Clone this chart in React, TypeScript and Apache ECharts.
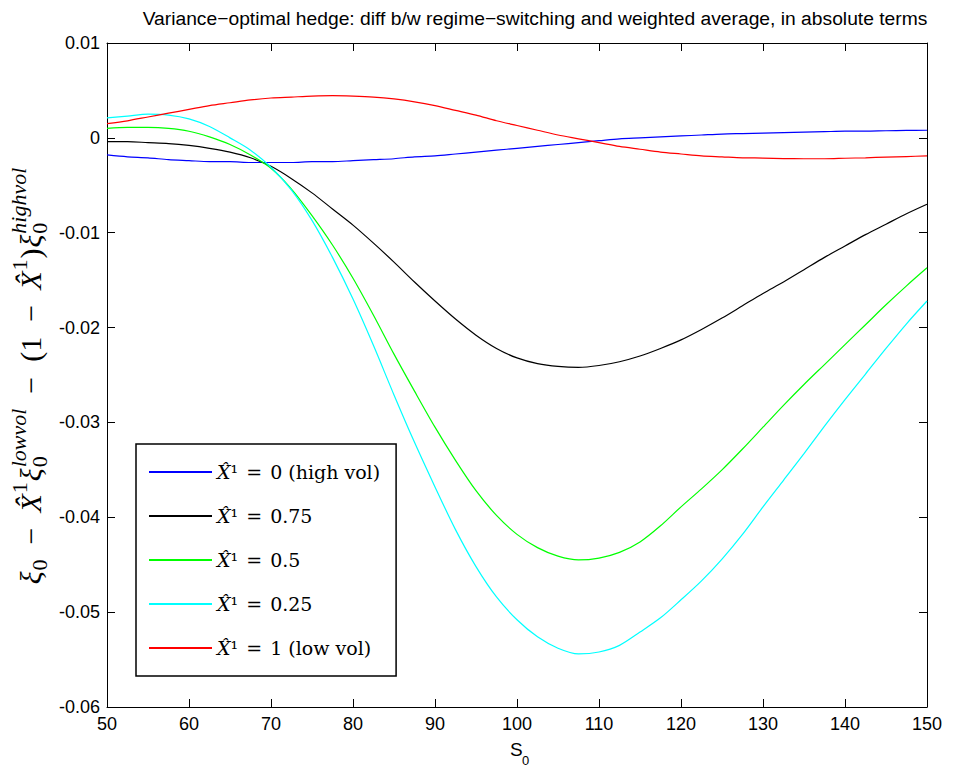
import React, { useEffect, useRef } from "react";
import * as echarts from "echarts";

const S_VALUES = [50, 52.5, 55, 57.5, 60, 62.5, 65, 67.5, 70, 72.5, 75, 77.5, 80, 82.5, 85, 87.5, 90, 92.5, 95, 97.5, 100, 102.5, 105, 107.5, 110, 112.5, 115, 117.5, 120, 122.5, 125, 127.5, 130, 132.5, 135, 137.5, 140, 142.5, 145, 147.5, 150];

const HIGH_VOL = [-0.0018, -0.002, -0.0021, -0.0023, -0.0024, -0.0025, -0.0025, -0.0026, -0.0026, -0.0026, -0.0025, -0.0025, -0.0024, -0.0023, -0.0022, -0.002, -0.0019, -0.0017, -0.0015, -0.0013, -0.0011, -0.0009, -0.0007, -0.0005, -0.0003, -0.0001, 0.0, 0.0001, 0.0002, 0.0003, 0.0004, 0.00045, 0.0005, 0.00055, 0.0006, 0.00065, 0.0007, 0.0007, 0.00075, 0.00078, 0.0008];
const X075 = [-0.0004, -0.0004, -0.0005, -0.0006, -0.0008, -0.0011, -0.0015, -0.0021, -0.003, -0.0043, -0.0058, -0.0075, -0.0092, -0.0111, -0.0131, -0.0152, -0.0172, -0.0191, -0.0208, -0.0222, -0.0232, -0.0238, -0.0241, -0.0242, -0.024, -0.0236, -0.023, -0.0222, -0.0213, -0.0202, -0.019, -0.0177, -0.0164, -0.0152, -0.0139, -0.0126, -0.0114, -0.0102, -0.0091, -0.008, -0.007];
const X050 = [0.001, 0.0011, 0.0011, 0.001, 0.0007, 0.0001, -0.0007, -0.0018, -0.0032, -0.0054, -0.0082, -0.0113, -0.0148, -0.0187, -0.0228, -0.0267, -0.0305, -0.034, -0.0372, -0.0398, -0.0418, -0.0432, -0.0441, -0.0445, -0.0443, -0.0437, -0.0426, -0.0409, -0.0389, -0.037, -0.035, -0.0328, -0.0305, -0.0282, -0.026, -0.0239, -0.0218, -0.0197, -0.0176, -0.0156, -0.0137];
const X025 = [0.0021, 0.0023, 0.0025, 0.0024, 0.002, 0.0012, 0.0, -0.0013, -0.0031, -0.0055, -0.0087, -0.0126, -0.017, -0.0219, -0.0271, -0.0321, -0.0368, -0.0413, -0.0452, -0.0484, -0.0508, -0.0526, -0.0538, -0.0544, -0.0542, -0.0535, -0.0521, -0.0506, -0.0487, -0.0467, -0.0444, -0.0418, -0.0389, -0.0361, -0.0333, -0.0304, -0.0276, -0.0249, -0.0222, -0.0196, -0.0172];
const LOW_VOL = [0.0015, 0.0018, 0.0022, 0.0026, 0.003, 0.0034, 0.0037, 0.004, 0.0042, 0.0043, 0.0044, 0.00445, 0.0044, 0.0043, 0.0041, 0.0038, 0.0034, 0.0029, 0.0024, 0.0018, 0.0013, 0.0008, 0.0003, -0.0001, -0.0005, -0.0009, -0.0012, -0.0015, -0.0017, -0.0019, -0.002, -0.0021, -0.00213, -0.00218, -0.0022, -0.0022, -0.00215, -0.0021, -0.00203, -0.00197, -0.0019];

const SERIES_NAMES = ["X̂¹ = 0 (high vol)", "X̂¹ = 0.75", "X̂¹ = 0.5", "X̂¹ = 0.25", "X̂¹ = 1 (low vol)"];
const SERIES_DATA = [HIGH_VOL, X075, X050, X025, LOW_VOL];
const SERIES_COLORS = ["#0000ff", "#000000", "#00ff00", "#00ffff", "#ff0000"];

const TITLE = "Variance\u2212optimal hedge: diff b/w regime\u2212switching and weighted average, in absolute terms";

const SERIF = '"DejaVu Serif", "Liberation Serif", serif';
const LSERIF = '"Liberation Serif", "Times New Roman", serif';
const SANS = '"Liberation Sans", Arial, Helvetica, sans-serif';

export default function App() {
  const ref = useRef<HTMLDivElement>(null);

  useEffect(() => {
    if (!ref.current) return;
    const chart = echarts.init(ref.current, undefined, { renderer: "svg" });

    // y-axis label built from pieces (LaTeX-like)
    const canvas = document.createElement("canvas");
    const ctx = canvas.getContext("2d")!;
    const measure = (t: string, size: number, italic: boolean) => {
      ctx.font = `${italic ? "italic " : ""}${size}px ${LSERIF}`;
      return ctx.measureText(t).width;
    };
    type Piece = { t: string; big: boolean; italic: boolean; dy: number; op?: boolean; stackWith?: { t: string; italic: boolean; dy: number } };
    const SUB = 9;
    const SUP = -12;
    const pieces: Piece[] = [
      { t: "ξ", big: true, italic: true, dy: 0 },
      { t: "0", big: false, italic: false, dy: SUB },
      { t: "−", big: true, italic: false, dy: 0, op: true },
      { t: "X̂", big: true, italic: true, dy: 0 },
      { t: "1", big: false, italic: false, dy: SUP + 1 },
      { t: "ξ", big: true, italic: true, dy: 0 },
      { t: "0", big: false, italic: false, dy: SUB, stackWith: { t: "lowvol", italic: true, dy: SUP } },
      { t: "−", big: true, italic: false, dy: 0, op: true },
      { t: "(1", big: true, italic: false, dy: 0 },
      { t: "−", big: true, italic: false, dy: 0, op: true },
      { t: "X̂", big: true, italic: true, dy: 0 },
      { t: "1", big: false, italic: false, dy: SUP + 1 },
      { t: ")", big: true, italic: false, dy: 0 },
      { t: "ξ", big: true, italic: true, dy: 0 },
      { t: "0", big: false, italic: false, dy: SUB, stackWith: { t: "highvol", italic: true, dy: SUP } },
    ];
    const TARGET_LEN = 427;
    const BIG = 30;
    const SM = 22;
    const mk = (t: string, size: number, italic: boolean, x: number, y: number) => ({
      type: "text",
      x,
      y,
      style: {
        text: t,
        fontSize: size,
        fontFamily: LSERIF,
        fontStyle: italic ? "italic" : "normal",
        fill: "#000",
        textAlign: "left",
        textVerticalAlign: "middle",
        align: "left",
        verticalAlign: "middle",
      },
    });
    const widths = pieces.map((p) => {
      const w1 = measure(p.t, p.big ? BIG : SM, p.italic);
      const w2 = p.stackWith ? measure(p.stackWith.t, SM, p.stackWith.italic) : 0;
      return Math.max(w1, w2);
    });
    const natural = widths.reduce((a, b) => a + b, 0);
    const nOps = pieces.filter((p) => p.op).length;
    const minGap = 1;
    const opGap = Math.min(14, Math.max(4, (TARGET_LEN - natural - minGap * (pieces.length - 1)) / (2 * nOps)));
    const total = natural + minGap * (pieces.length - 1) + opGap * 2 * nOps;
    let cx = -total / 2;
    const children: any[] = [];
    pieces.forEach((p, i) => {
      if (p.op) cx += opGap;
      children.push(mk(p.t, p.big ? BIG : SM, p.italic, cx, p.dy));
      if (p.stackWith) children.push(mk(p.stackWith.t, SM, p.stackWith.italic, cx, p.stackWith.dy));
      cx += widths[i] + minGap;
      if (p.op) cx += opGap;
    });

    const axisCommon = {
      type: "value" as const,
      axisLine: { show: true, onZero: false, lineStyle: { color: "#000", width: 1 } },
      axisTick: { show: true, inside: true, length: 8, lineStyle: { color: "#000", width: 1 } },
      splitLine: { show: false },
    };

    const option: any = {
      animation: false,
      backgroundColor: "#fff",
      title: {
        text: TITLE,
        left: 530,
        top: 4,
        textAlign: "center",
        textStyle: { fontFamily: SANS, fontSize: 19.25, fontWeight: "normal", color: "#000" },
      },
      grid: { left: 107, right: 29, top: 43, bottom: 63, containLabel: false },
      xAxis: [
        {
          ...axisCommon,
          min: 50,
          max: 150,
          interval: 10,
          position: "bottom",
          axisLabel: { color: "#000", fontSize: 18, fontFamily: SANS, margin: 8 },
        },
        {
          ...axisCommon,
          min: 50,
          max: 150,
          interval: 10,
          position: "top",
          axisLabel: { show: false },
        },
      ],
      yAxis: [
        {
          ...axisCommon,
          min: -0.06,
          max: 0.01,
          interval: 0.01,
          position: "left",
          axisLabel: {
            color: "#000",
            fontSize: 18,
            fontFamily: SANS,
            margin: 7,
            formatter: (v: number) => {
              if (Math.abs(v) < 1e-9) return "0";
              return (Math.round(v * 100) / 100).toFixed(2);
            },
          },
        },
        {
          ...axisCommon,
          min: -0.06,
          max: 0.01,
          interval: 0.01,
          position: "right",
          axisLabel: { show: false },
        },
      ],
      legend: {
        orient: "vertical",
        left: 136,
        top: 444,
        padding: [16, 16, 16, 13],
        itemGap: 20,
        itemWidth: 63,
        itemHeight: 2,
        icon: "rect",
        borderColor: "#000",
        borderWidth: 1.5,
        borderRadius: 0,
        backgroundColor: "#fff",
        data: SERIES_NAMES,
        formatter: (name: string) => {
          const rest = name.slice(6);
          return `{i|X̂}{n|¹ }{e|=}{n| ${rest}}`;
        },
        textStyle: {
          color: "#000",
          fontFamily: SERIF,
          fontSize: 19,
          lineHeight: 24,
          rich: {
            i: { fontFamily: SERIF, fontStyle: "italic", fontSize: 19, lineHeight: 24, color: "#000" },
            n: { fontFamily: SERIF, fontSize: 19, lineHeight: 24, color: "#000" },
            e: { fontFamily: SERIF, fontSize: 19, lineHeight: 24, color: "#000", padding: [0, 2, 0, 2] },
          },
        },
      },
      graphic: [
        { type: "group", x: 30, y: 376, rotation: Math.PI / 2, children },
        {
          type: "text",
          x: 510,
          y: 749,
          style: { text: "S", fontSize: 19, fontFamily: SANS, fill: "#000", textAlign: "left", textVerticalAlign: "middle", align: "left", verticalAlign: "middle" },
        },
        {
          type: "text",
          x: 522,
          y: 760,
          style: { text: "0", fontSize: 13, fontFamily: SANS, fill: "#000", textAlign: "left", textVerticalAlign: "middle", align: "left", verticalAlign: "middle" },
        },
      ],
      series: SERIES_NAMES.map((name, k) => ({
        name,
        type: "line",
        xAxisIndex: 0,
        yAxisIndex: 0,
        data: S_VALUES.map((s, i) => [s, SERIES_DATA[k][i]]),
        showSymbol: false,
        symbol: "none",
        smooth: 0.3,
        color: SERIES_COLORS[k],
        lineStyle: { color: SERIES_COLORS[k], width: 1.2 },
        emphasis: { disabled: true },
      })),
    };

    chart.setOption(option);
    return () => chart.dispose();
  }, []);

  return (
    <div
      ref={ref}
      style={{ position: "fixed", left: 0, top: 0, width: 956, height: 770, background: "#fff" }}
    />
  );
}
